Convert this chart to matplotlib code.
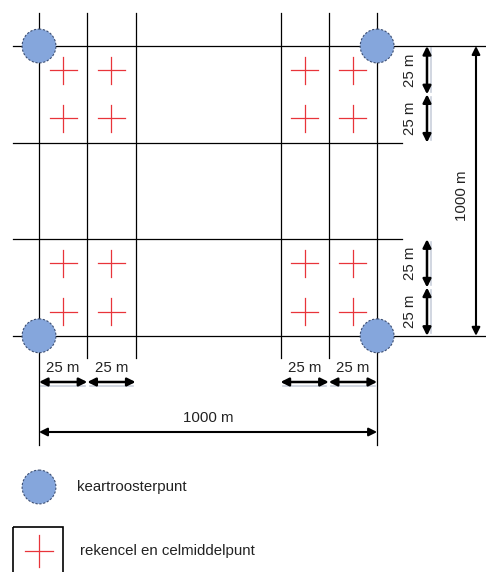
import matplotlib
matplotlib.use("Agg")
import matplotlib.pyplot as plt
from matplotlib.patches import Circle, Rectangle

# ======================
# data (grid units: 1 unit = one 25 m cell, y grows downward)
# ======================
COL_X = [0, 1, 2, 5, 6, 7]          # vertical grid lines
ROW_Y = [0, 2, 4, 6]                # horizontal grid lines
CELL_X = [0.5, 1.5, 5.5, 6.5]       # cell centres
CELL_Y = [0.5, 1.5, 4.5, 5.5]
CORNER_X = [0, 7]                   # map grid points
CORNER_Y = [0, 6]
DIM_X_SEGS = [(0, 1), (1, 2), (5, 6), (6, 7)]
DIM_Y_SEGS = [(0, 1), (1, 2), (4, 5), (5, 6)]
CELL_LABEL = "25 m"
TOTAL_LABEL = "1000 m"
LEGEND_LABELS = ["keartroosterpunt", "rekencel en celmiddelpunt"]

# ======================
# style
# ======================
PX = 48.3                 # pixels per unit
X0, Y0 = 39, 46           # pixel position of origin
W, H = 486, 572
CIRCLE_FC = "#85a6dc"
CIRCLE_EC = "#3d4f73"
CROSS_C = "#e8343a"
TEXT_C = "#222222"
FONT = "Liberation Sans"
FS = 10.8


def px(v, x=True):
    return (v - (X0 if x else Y0)) / PX


fig = plt.figure(figsize=(W / 100, H / 100), dpi=100)
ax = fig.add_axes([0, 0, 1, 1])
ax.set_xlim(px(0), px(W))
ax.set_ylim(px(H, False), px(0, False))
ax.axis("off")

# grid lines
top = px(13, False)
for c in COL_X:
    bottom = px(445, False) if c in CORNER_X else px(358, False)
    ax.plot([c, c], [top, bottom], color="black", lw=0.9, zorder=1)
for r in ROW_Y:
    right = px(W) if r in CORNER_Y else px(402)
    ax.plot([px(13), right], [r, r], color="black", lw=0.9, zorder=1)

# cell centres
hl = 0.28
for cx in CELL_X:
    for cy in CELL_Y:
        ax.plot([cx - hl, cx + hl], [cy, cy], color=CROSS_C, lw=0.9, zorder=2)
        ax.plot([cx, cx], [cy - hl, cy + hl], color=CROSS_C, lw=0.9, zorder=2)

# map grid points
for cx in CORNER_X:
    for cy in CORNER_Y:
        ax.add_patch(Circle((cx, cy), 0.35, fc=CIRCLE_FC, ec=CIRCLE_EC,
                            lw=0.8, ls=(0, (2, 1.5)), zorder=3))


def dim_arrow(p0, p1, lw=1.8):
    ax.annotate("", xy=p1, xytext=p0,
                arrowprops=dict(arrowstyle="<|-|>", color="black", lw=lw,
                                mutation_scale=12, shrinkA=0, shrinkB=0))


# horizontal 25 m dimensions
ya = px(382, False)
for a, b in DIM_X_SEGS:
    ax.plot([a + 0.05, b - 0.05], [ya + 0.09, ya + 0.09], color="#c9d0dc", lw=1.2, zorder=0)
    dim_arrow((a, ya), (b, ya))
    ax.text((a + b) / 2, px(368, False), CELL_LABEL, ha="center", va="center",
            fontsize=FS, family=FONT, color=TEXT_C)

# vertical 25 m dimensions
xa = px(427)
for a, b in DIM_Y_SEGS:
    ax.plot([xa + 0.09, xa + 0.09], [a + 0.05, b - 0.05], color="#c9d0dc", lw=1.2, zorder=0)
    dim_arrow((xa, a), (xa, b))
    ax.text(px(410), (a + b) / 2, CELL_LABEL, ha="center", va="center",
            rotation=90, fontsize=FS, family=FONT, color=TEXT_C)

# 1000 m dimensions
yb = px(432, False)
dim_arrow((CORNER_X[0], yb), (CORNER_X[1], yb), lw=1.5)
ax.text(sum(CORNER_X) / 2, px(418, False), TOTAL_LABEL, ha="center", va="center",
        fontsize=FS, family=FONT, color=TEXT_C)
xb = px(476)
dim_arrow((xb, CORNER_Y[0]), (xb, CORNER_Y[1]), lw=1.5)
ax.text(px(462), sum(CORNER_Y) / 2 + 0.1, TOTAL_LABEL, ha="center", va="center",
        rotation=90, fontsize=FS, family=FONT, color=TEXT_C)

# legend
ly1 = px(487, False)
ax.add_patch(Circle((0, ly1), 0.35, fc=CIRCLE_FC, ec=CIRCLE_EC,
                    lw=0.8, ls=(0, (2, 1.5)), zorder=3))
ax.text(px(77), ly1, LEGEND_LABELS[0], ha="left", va="center", fontsize=FS,
        family=FONT, color=TEXT_C)

ly2 = px(551, False)
ax.add_patch(Rectangle((px(13), px(527, False)), 50 / PX, 60 / PX,
                       fc="none", ec="black", lw=1.2, zorder=2))
ax.plot([-hl, hl], [ly2, ly2], color=CROSS_C, lw=0.9)
ax.plot([0, 0], [ly2 - hl - 0.05, ly2 + hl + 0.05], color=CROSS_C, lw=0.9)
ax.text(px(80), ly2, LEGEND_LABELS[1], ha="left", va="center", fontsize=FS,
        family=FONT, color=TEXT_C)

fig.savefig("out.png", dpi=100)
